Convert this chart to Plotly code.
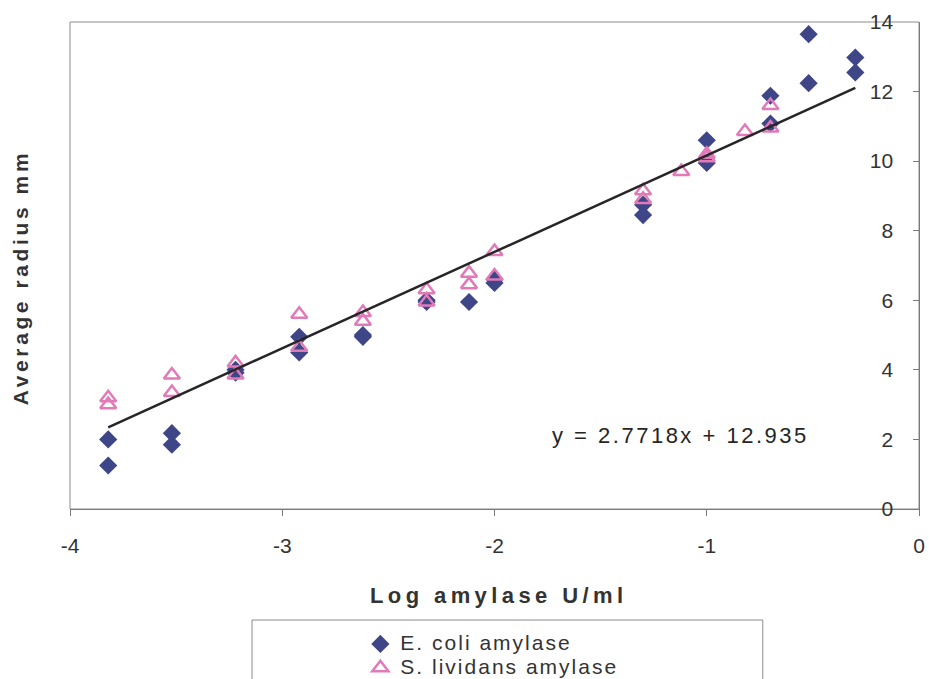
import plotly.graph_objects as go

# Log amylase (U/ml) vs average radius (mm), two enzyme sources
ecoli_x = [-3.82, -3.82, -3.52, -3.52, -3.22, -3.22, -2.92, -2.92, -2.62, -2.62,
           -2.32, -2.32, -2.12, -2.0, -2.0, -1.3, -1.3, -1.0, -1.0, -0.7, -0.7,
           -0.52, -0.52, -0.3, -0.3]
ecoli_y = [2.0, 1.25, 2.18, 1.85, 4.0, 3.92, 4.95, 4.5, 4.95, 5.0,
           5.95, 6.0, 5.95, 6.6, 6.5, 8.75, 8.45, 10.6, 9.95, 11.88, 11.08,
           13.65, 12.24, 12.98, 12.55]

slividans_x = [-3.82, -3.82, -3.52, -3.52, -3.22, -3.22, -2.92, -2.92, -2.62, -2.62,
               -2.32, -2.32, -2.12, -2.12, -2.0, -2.0, -1.3, -1.3, -1.12, -1.0, -1.0,
               -0.82, -0.7, -0.7]
slividans_y = [3.2, 3.0, 3.85, 3.35, 4.2, 3.85, 5.6, 4.65, 5.65, 5.4,
               6.3, 5.95, 6.78, 6.45, 7.4, 6.7, 9.15, 8.9, 9.7, 10.2, 10.1,
               10.85, 11.6, 10.95]

# Linear trendline
trend_slope = 2.7718
trend_intercept = 12.935
trend_x = [-3.82, -0.3]
trend_y = [trend_slope * v + trend_intercept for v in trend_x]

x_tick_vals = [-4, -3, -2, -1, 0]
x_tick_text = ["-4", "-3", "-2", "-1", "0"]
y_tick_vals = [0, 2, 4, 6, 8, 10, 12, 14]

FONT = "Liberation Sans, Arial, sans-serif"
DIAMOND = "#3e4687"
PINK = "#e27ab8"
AXIS = "#7a7a7a"
TEXT = "#333333"


def spaced(text, px, size=None):
    style = "letter-spacing:%spx" % px
    if size:
        style += ";font-size:%spx" % size
    return '<span style="%s">%s</span>' % (style, text)


fig = go.Figure()
fig.add_trace(go.Scatter(
    x=ecoli_x, y=ecoli_y, mode="markers", name=spaced("E. coli amylase", 2, 21),
    marker=dict(symbol="diamond", size=14, color=DIAMOND, line=dict(width=0)),
))
fig.add_trace(go.Scatter(
    x=slividans_x, y=slividans_y, mode="markers", name=spaced("S. lividans amylase", 2, 21),
    marker=dict(symbol="triangle-up-open", size=14, color=PINK, line=dict(width=2.5, color=PINK)),
))
fig.add_trace(go.Scatter(
    x=trend_x, y=trend_y, mode="lines", showlegend=False, hoverinfo="skip",
    line=dict(color="#262626", width=2.5),
))

fig.update_layout(
    width=929, height=679,
    margin=dict(l=70, r=10, t=22, b=170, autoexpand=False),
    paper_bgcolor="white", plot_bgcolor="white",
    font=dict(family=FONT, color=TEXT),
    showlegend=True,
    legend=dict(
        x=0.342, y=0.0765, xanchor="left", yanchor="top", yref="container",
        bgcolor="rgba(0,0,0,0)", borderwidth=0,
        font=dict(size=16, family=FONT, color=TEXT),
        tracegroupgap=0, itemsizing="trace",
    ),
    xaxis=dict(
        range=[-4, 0], tickvals=x_tick_vals, ticktext=x_tick_text,
        showgrid=False, zeroline=False, showline=True, linecolor=AXIS, linewidth=1,
        ticks="outside", ticklen=6, tickcolor=AXIS,
        tickfont=dict(size=21, family=FONT, color=TEXT),
        ticklabelstandoff=12, automargin=False, ticklabeloverflow="allow",
    ),
    yaxis=dict(
        range=[0, 14], tickvals=y_tick_vals, side="right",
        showgrid=False, zeroline=False, showline=True, linecolor=AXIS, linewidth=1,
        ticks="inside", ticklen=6, tickcolor=AXIS,
        ticklabelposition="inside", ticklabeloverflow="allow",
        tickfont=dict(size=21, family=FONT, color=TEXT),
        ticklabelstandoff=21, automargin=False,
    ),
    shapes=[
        # plot area frame
        dict(type="rect", xref="paper", yref="paper", x0=0, x1=1, y0=0, y1=1,
             line=dict(color="#8c8c8c", width=1), layer="below"),
        # legend box
        dict(type="rect", xref="paper", yref="paper", x0=0.2144, x1=0.816,
             y0=-0.40, y1=-0.228, line=dict(color="#8c8c8c", width=1), layer="below"),
    ],
    annotations=[
        dict(text="<b>" + spaced("Average radius mm", 3.6) + "</b>", xref="paper", yref="paper",
             x=-0.0589, y=0.476, textangle=-90, showarrow=False,
             xanchor="center", yanchor="middle",
             font=dict(size=21, family=FONT, color=TEXT)),
        dict(text="<b>" + spaced("Log amylase U/ml", 4.4) + "</b>", xref="paper", yref="paper",
             x=0.505, y=-0.1766, showarrow=False, xanchor="center", yanchor="middle",
             font=dict(size=22, family=FONT, color=TEXT)),
        dict(text=spaced("y = 2.7718x + 12.935", 2.5), xref="paper", yref="paper",
             x=0.7185, y=0.150, showarrow=False, xanchor="center", yanchor="middle",
             font=dict(size=22, family=FONT, color="#262626")),
    ],
)

fig.write_html("out.html")
